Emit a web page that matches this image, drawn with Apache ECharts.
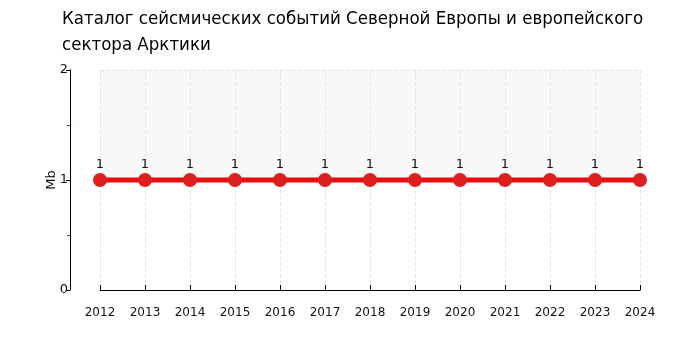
<!DOCTYPE html>
<html><head><meta charset="utf-8">
<script src="https://cdn.jsdelivr.net/npm/echarts@6/dist/echarts.min.js"></script>
<style>html,body{margin:0;padding:0;background:#fff}#c{width:700px;height:350px}</style>
</head><body><div id="c"></div>
<script>
const titleText = 'Каталог сейсмических событий Северной Европы и европейского\nсектора Арктики';
const years = ['2012','2013','2014','2015','2016','2017','2018','2019','2020','2021','2022','2023','2024'];
const values = [1,1,1,1,1,1,1,1,1,1,1,1,1];
const yAxisName = 'Mb';

const chart = echarts.init(document.getElementById('c'), null, {renderer:'canvas'});
chart.setOption({
  animation: false,
  backgroundColor: '#fff',
  title: {
    text: titleText, left: 57, top: 1,
    textStyle: {fontFamily: '"DejaVu Sans Condensed", "DejaVu Sans"', fontSize: 18.5, fontWeight: 'normal', color: '#000', lineHeight: 26}
  },
  grid: {left: 100, right: 60, top: 70, bottom: 60},
  xAxis: {
    type: 'category', data: years, boundaryGap: false, offset: 10,
    axisLine: {lineStyle: {color: '#000', width: 1}},
    axisTick: {show: true, inside: true, length: 5, alignWithLabel: true, lineStyle: {color: '#000'}},
    axisLabel: {fontFamily: 'DejaVu Sans', fontSize: 12, color: '#111', margin: 7},
    splitLine: {show: true, lineStyle: {type: 'dashed', color: '#e4e4e4'}}
  },
  yAxis: {
    type: 'value', min: 0, max: 2, interval: 1, offset: 30,
    name: yAxisName, nameLocation: 'middle', nameGap: 12, nameMoveOverlap: false,
    nameTextStyle: {fontFamily: 'DejaVu Sans', fontSize: 13, color: '#111'},
    axisLine: {show: true, lineStyle: {color: '#000', width: 1}},
    axisTick: {show: true, length: 4, lineStyle: {color: '#000'}},
    minorTick: {show: true, splitNumber: 2, length: 3, lineStyle: {color: '#d00'}},
    axisLabel: {fontFamily: 'DejaVu Sans', fontSize: 13, color: '#111', margin: 2},
    splitLine: {show: true, lineStyle: {type: 'dashed', color: '#e4e4e4'}},
    splitArea: {show: true, areaStyle: {color: ['rgba(255,255,255,1)', '#f8f8f8']}}
  },
  series: [{
    type: 'line', data: values,
    symbol: 'circle', symbolSize: 14,
    lineStyle: {color: '#e60d0d', width: 5},
    itemStyle: {color: '#de1f1f'},
    label: {show: true, position: 'top', distance: 2, fontFamily: 'DejaVu Sans', fontSize: 13, color: '#111'}
  }]
});
</script></body></html>
